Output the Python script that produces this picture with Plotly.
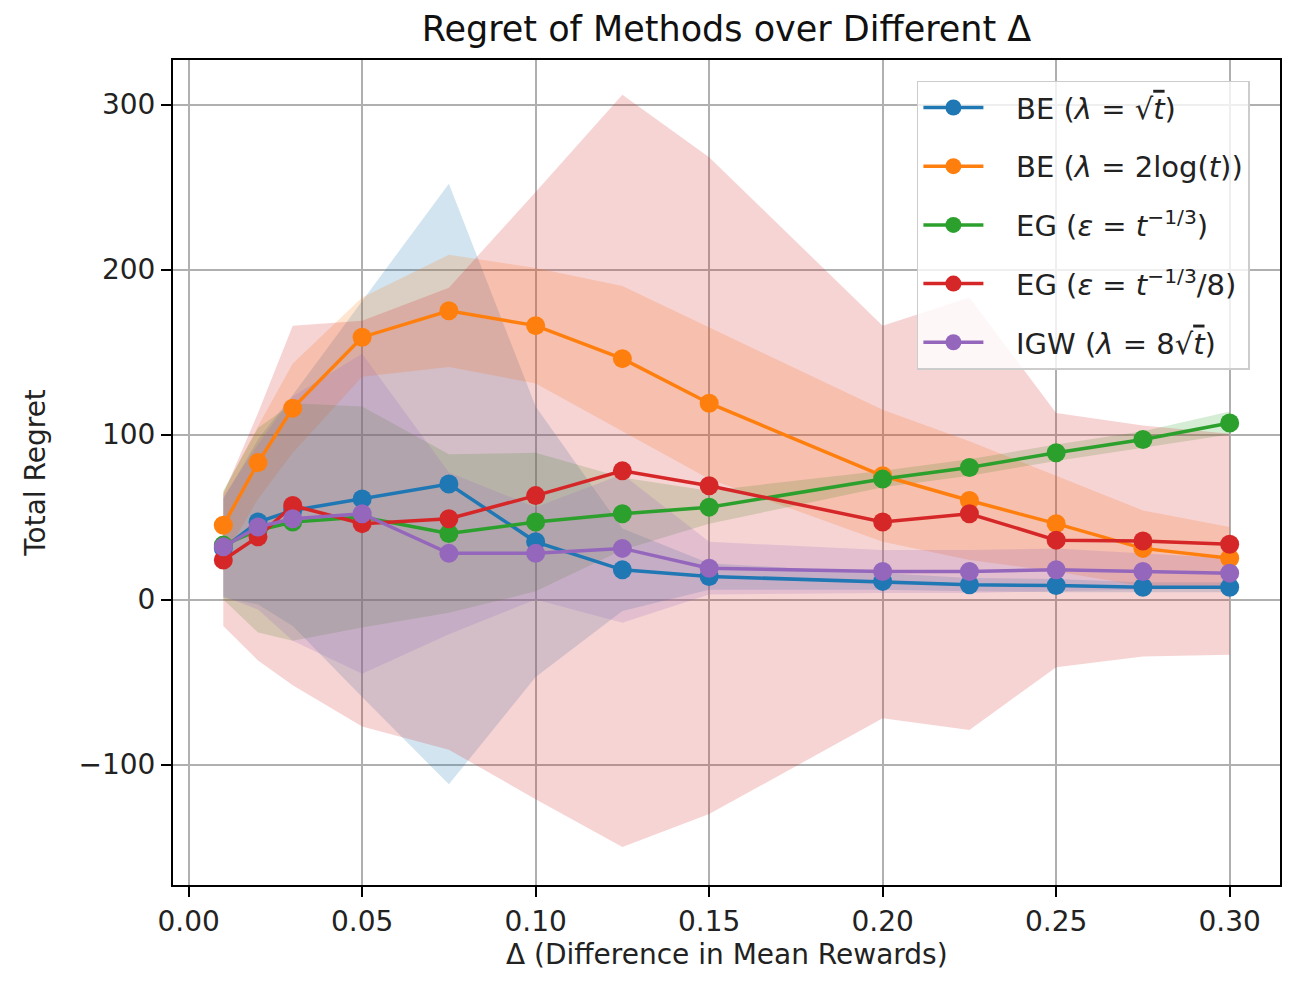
import plotly.graph_objects as go

# ---- data ----
delta = [0.01, 0.02, 0.03, 0.05, 0.075, 0.10, 0.125, 0.15, 0.20, 0.225, 0.25, 0.275, 0.30]

be_sqrt_mean = [31, 47, 54, 61, 70, 35, 18, 14, 11, 9, 8.5, 7.5, 7.5]
be_sqrt_std = [30, 50, 70, 120, 182, 82, 25, 8, 5, 4, 4, 3, 3]

be_log_mean = [45, 83, 116, 159, 175, 166, 146, 119, 75, 60, 46, 31, 25]
be_log_std = [20, 22, 27, 24, 34, 35, 44, 46, 40, 36, 29, 23, 19]

eg_mean = [33, 42, 47, 50, 40, 47, 52, 56, 73, 80, 89, 97, 107]
eg_std = [33, 62, 72, 67, 48, 42, 22, 10, 5, 5, 5, 5, 7]

eg8_mean = [24, 38, 57, 46, 49, 63, 78, 69, 47, 52, 36, 35.5, 33.5]
eg8_std = [40, 75, 109, 123, 140, 184, 228, 199, 119, 131, 77, 70, 67]

igw_mean = [32, 44, 49, 52, 28, 28, 31, 19, 17, 17, 18, 17, 16]
igw_std = [30, 50, 74, 97, 49, 28, 45, 16, 13, 13, 13, 11, 9]

NB = "\u00a0\u00a0\u00a0"
names = [
    NB + "BE (<i>λ</i> = √<span style='text-decoration:overline'><i>t</i></span>)",
    NB + "BE (<i>λ</i> = 2log(<i>t</i>))",
    NB + "EG (<i>ε</i> = <i>t</i><sup>−1/3</sup>)",
    NB + "EG (<i>ε</i> = <i>t</i><sup>−1/3</sup>/8)",
    NB + "IGW (<i>λ</i> = 8√<span style='text-decoration:overline'><i>t</i></span>)",
]
means = [be_sqrt_mean, be_log_mean, eg_mean, eg8_mean, igw_mean]
stds = [be_sqrt_std, be_log_std, eg_std, eg8_std, igw_std]
colors = ["#1f77b4", "#ff7f0e", "#2ca02c", "#d62728", "#9467bd"]

x_ticks = [0.00, 0.05, 0.10, 0.15, 0.20, 0.25, 0.30]
y_ticks = [-100, 0, 100, 200, 300]


def rgba(hexcol, a):
    h = hexcol.lstrip("#")
    r, g, b = int(h[0:2], 16), int(h[2:4], 16), int(h[4:6], 16)
    return f"rgba({r},{g},{b},{a})"


fig = go.Figure()

# shaded bands (mean ± std)
for i, (m, s, c) in enumerate(zip(means, stds, colors)):
    upper = [a + b for a, b in zip(m, s)]
    lower = [a - b for a, b in zip(m, s)]
    fig.add_trace(go.Scatter(x=delta, y=upper, mode="lines", line=dict(width=0, color=c),
                             showlegend=False, hoverinfo="skip", legendgroup=f"g{i}"))
    fig.add_trace(go.Scatter(x=delta, y=lower, mode="lines", line=dict(width=0, color=c),
                             fill="tonexty", fillcolor=rgba(c, 0.2),
                             showlegend=False, hoverinfo="skip", legendgroup=f"g{i}"))

# mean lines
for i, (m, c, n) in enumerate(zip(means, colors, names)):
    fig.add_trace(go.Scatter(x=delta, y=m, mode="lines+markers", name=n,
                             line=dict(color=c, width=3.5),
                             marker=dict(color=c, size=19, symbol="circle"),
                             legendgroup=f"g{i}"))

font_family = "DejaVu Sans"
axis_common = dict(
    showline=True, linecolor="black", linewidth=2, mirror=True,
    showgrid=True, gridcolor="#b0b0b0", gridwidth=1.6,
    zeroline=False, ticks="outside", ticklen=10, tickwidth=2, tickcolor="black",
    tickfont=dict(family=font_family, size=28, color="#222222"),
)

# page body has an 8px margin; figure is sized so the page fits the 1296x981 window
W, H = 1280, 965
fig.update_layout(
    width=W, height=H,
    paper_bgcolor="white", plot_bgcolor="white",
    margin=dict(l=165, r=6, t=52, b=88),
    font=dict(family=font_family, color="#222222"),
    title=dict(text="Regret of Methods over Different Δ", x=0.5, xref="paper",
               y=1 - 21 / H, yref="container", yanchor="middle", xanchor="center",
               font=dict(family=font_family, size=35, color="#111111")),
    xaxis=dict(range=[-0.0045, 0.3145], tickvals=x_ticks, tickformat=".2f", **axis_common),
    yaxis=dict(range=[-173, 327], tickvals=y_ticks, **axis_common),
    showlegend=True,
    legend=dict(x=0.672, y=0.975, xanchor="left", yanchor="top",
                bgcolor="rgba(255,255,255,0.8)", bordercolor="#cccccc", borderwidth=1.5,
                font=dict(family=font_family, size=29, color="#222222"),
                traceorder="grouped", tracegroupgap=18, itemwidth=60),
    annotations=[
        dict(text="Δ (Difference in Mean Rewards)", xref="paper", yref="paper",
             x=0.5, y=-(954 - 885) / 825, xanchor="center", yanchor="middle", borderpad=0,
             showarrow=False, font=dict(family=font_family, size=28, color="#222222")),
        dict(text="Total Regret", xref="paper", yref="paper",
             x=-(173 - 35) / 1109, y=0.5, xanchor="center", yanchor="middle", textangle=-90,
             showarrow=False, font=dict(family=font_family, size=28, color="#222222")),
    ],
)

fig.write_html("out.html")
